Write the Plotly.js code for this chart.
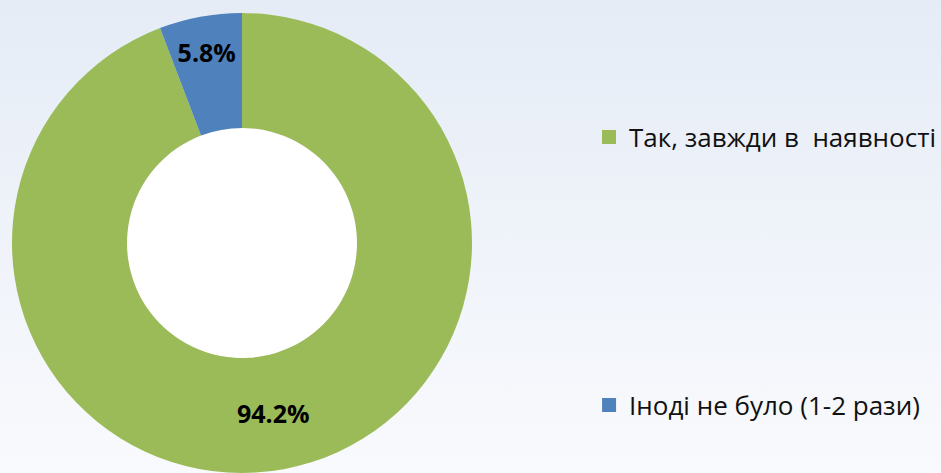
<!DOCTYPE html>
<html>
<head>
<meta charset="utf-8">
<script src="https://cdn.plot.ly/plotly-3.0.1.min.js"></script>
<style>
  html, body { margin: 0; padding: 0; }
  body { width: 941px; height: 473px; overflow: hidden;
         background: linear-gradient(to bottom, #e5ecf6 0%, #f9fafd 100%); }
  #chart { width: 941px; height: 473px; }
</style>
</head>
<body>
<div id="chart"></div>
<script>
const labels = ['Так, завжди в  наявності', 'Іноді не було (1-2 рази)'];
const values = [94.2, 5.8];
const colors = ['#9bbb59', '#4f81bd'];

const W = 941, H = 473, TOP = 13;
const domX = [11 / W, 473 / W];

const pie = {
    type: 'pie',
    labels: labels,
    values: values,
    sort: false,
    direction: 'clockwise',
    rotation: 0,
    hole: 0.5,
    domain: { x: domX, y: [0, 1] },
    marker: { colors: colors, line: { width: 0 } },
    textinfo: 'percent',
    textposition: 'inside',
    insidetextorientation: 'horizontal',
    textfont: { family: 'Open Sans, sans-serif', size: 25, color: '#000', weight: 'bold' },
    showlegend: false,
    hoverinfo: 'label+percent'
};

// legend entries, one per legend so they can sit apart like the original
const legendTraces = labels.map((lab, i) => ({
    type: 'scatter',
    mode: 'markers',
    x: [null],
    y: [null],
    name: lab,
    marker: { symbol: 'square', size: 14, color: colors[i] },
    legend: i === 0 ? 'legend' : 'legend2',
    showlegend: true,
    hoverinfo: 'skip'
}));

const legendFont = { family: 'Open Sans, sans-serif', size: 26, color: '#111' };

const layout = {
    width: W,
    height: H,
    margin: { l: 0, r: 0, t: TOP, b: 0 },
    paper_bgcolor: 'rgba(0,0,0,0)',
    plot_bgcolor: 'rgba(0,0,0,0)',
    xaxis: { visible: false },
    yaxis: { visible: false },
    uniformtext: { mode: 'show', minsize: 25 },
    shapes: [{
        type: 'circle',
        xref: 'paper', yref: 'paper',
        x0: 127 / W, x1: 357 / W, y0: 0.25, y1: 0.75,
        fillcolor: '#ffffff',
        line: { width: 0 },
        layer: 'below'
    }],
    legend: {
        x: 0.626, y: 1 - (137 - TOP) / (H - TOP),
        xanchor: 'left', yanchor: 'middle',
        bgcolor: 'rgba(0,0,0,0)', font: legendFont
    },
    legend2: {
        x: 0.626, y: 1 - (405 - TOP) / (H - TOP),
        xanchor: 'left', yanchor: 'middle',
        bgcolor: 'rgba(0,0,0,0)', font: legendFont
    }
};

Plotly.newPlot('chart', [pie].concat(legendTraces), layout, { displayModeBar: false, staticPlot: true });
</script>
</body>
</html>
